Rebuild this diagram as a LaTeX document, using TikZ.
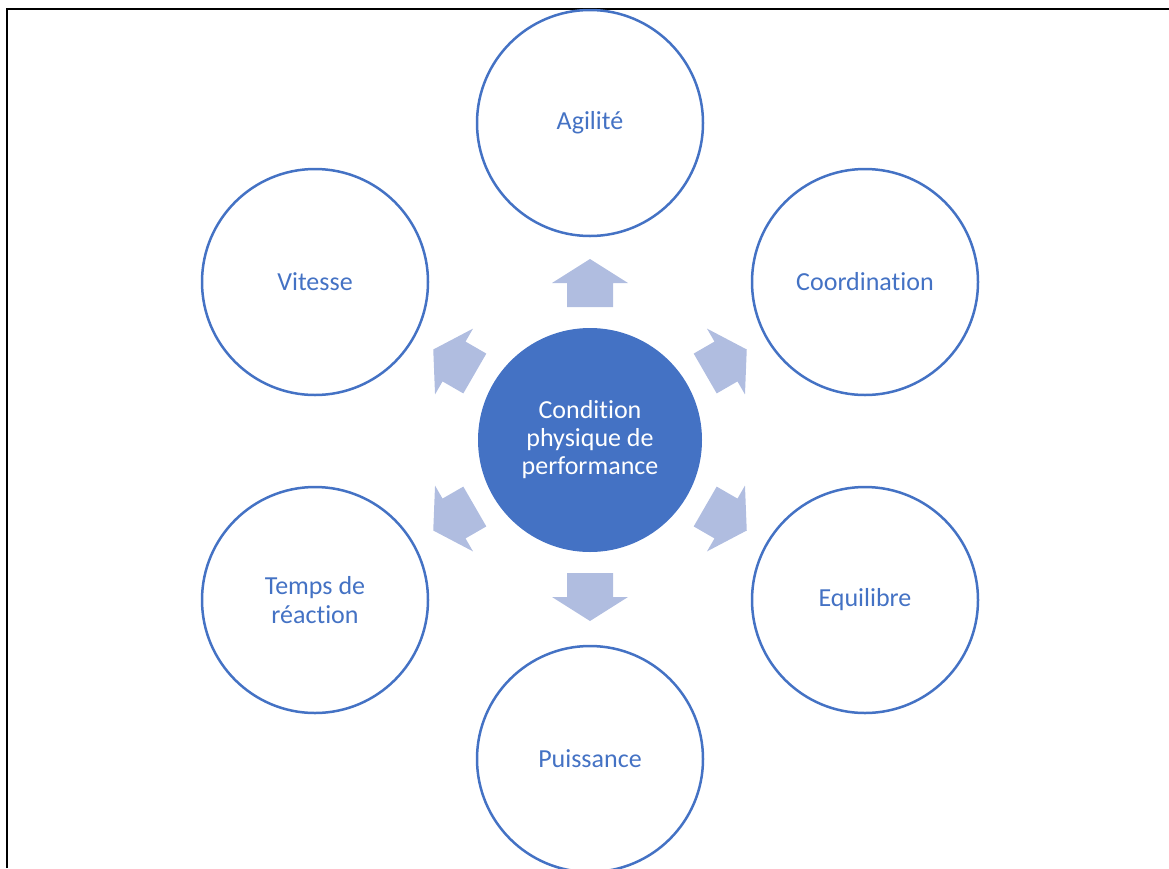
\documentclass[tikz,border=0pt]{standalone}
\usepackage{fontspec}
\setmainfont[Ligatures=NoCommon]{Carlito}
\definecolor{accent}{RGB}{68,114,196}
\definecolor{arrowfill}{RGB}{176,189,224}
\begin{document}
\begin{tikzpicture}[x=1pt,y=-1pt,
  outer/.style={circle,draw=accent,line width=2.5pt,minimum size=226pt,inner sep=0pt,
    text=accent,align=center,font=\fontsize{26}{29}\selectfont},
  hub/.style={circle,fill=accent,minimum size=224pt,inner sep=0pt,
    text=white,align=center,font=\fontsize{26}{28}\selectfont},
  blockarrow/.style={fill=arrowfill,draw=none}]
\useasboundingbox (0,0) rectangle (1169,868);
\draw[line width=2pt,black] (7,868) -- (7,9) -- (1169,9);
\node[hub] (c) at (590,440) {Condition\\physique de\\performance};
\node[outer] (agi) at (590,123) {Agilité};
\node[outer] (coo) at (865,282) {Coordination};
\node[outer] (equ) at (865,600) {Equilibre};
\node[outer] (pui) at (590,759) {Puissance};
\node[outer] (tem) at (315,600) {Temps de\\réaction};
\node[outer] (vit) at (315,282) {Vitesse};
\foreach \a in {90,30,-30,-90,-150,150}{
  \begin{scope}[shift={(c.center)},rotate=\a]
    \fill[blockarrow] (133,-23) -- (157,-23) -- (157,-38) -- (181,0) -- (157,38) -- (157,23) -- (133,23) -- cycle;
  \end{scope}
}
\end{tikzpicture}
\end{document}
